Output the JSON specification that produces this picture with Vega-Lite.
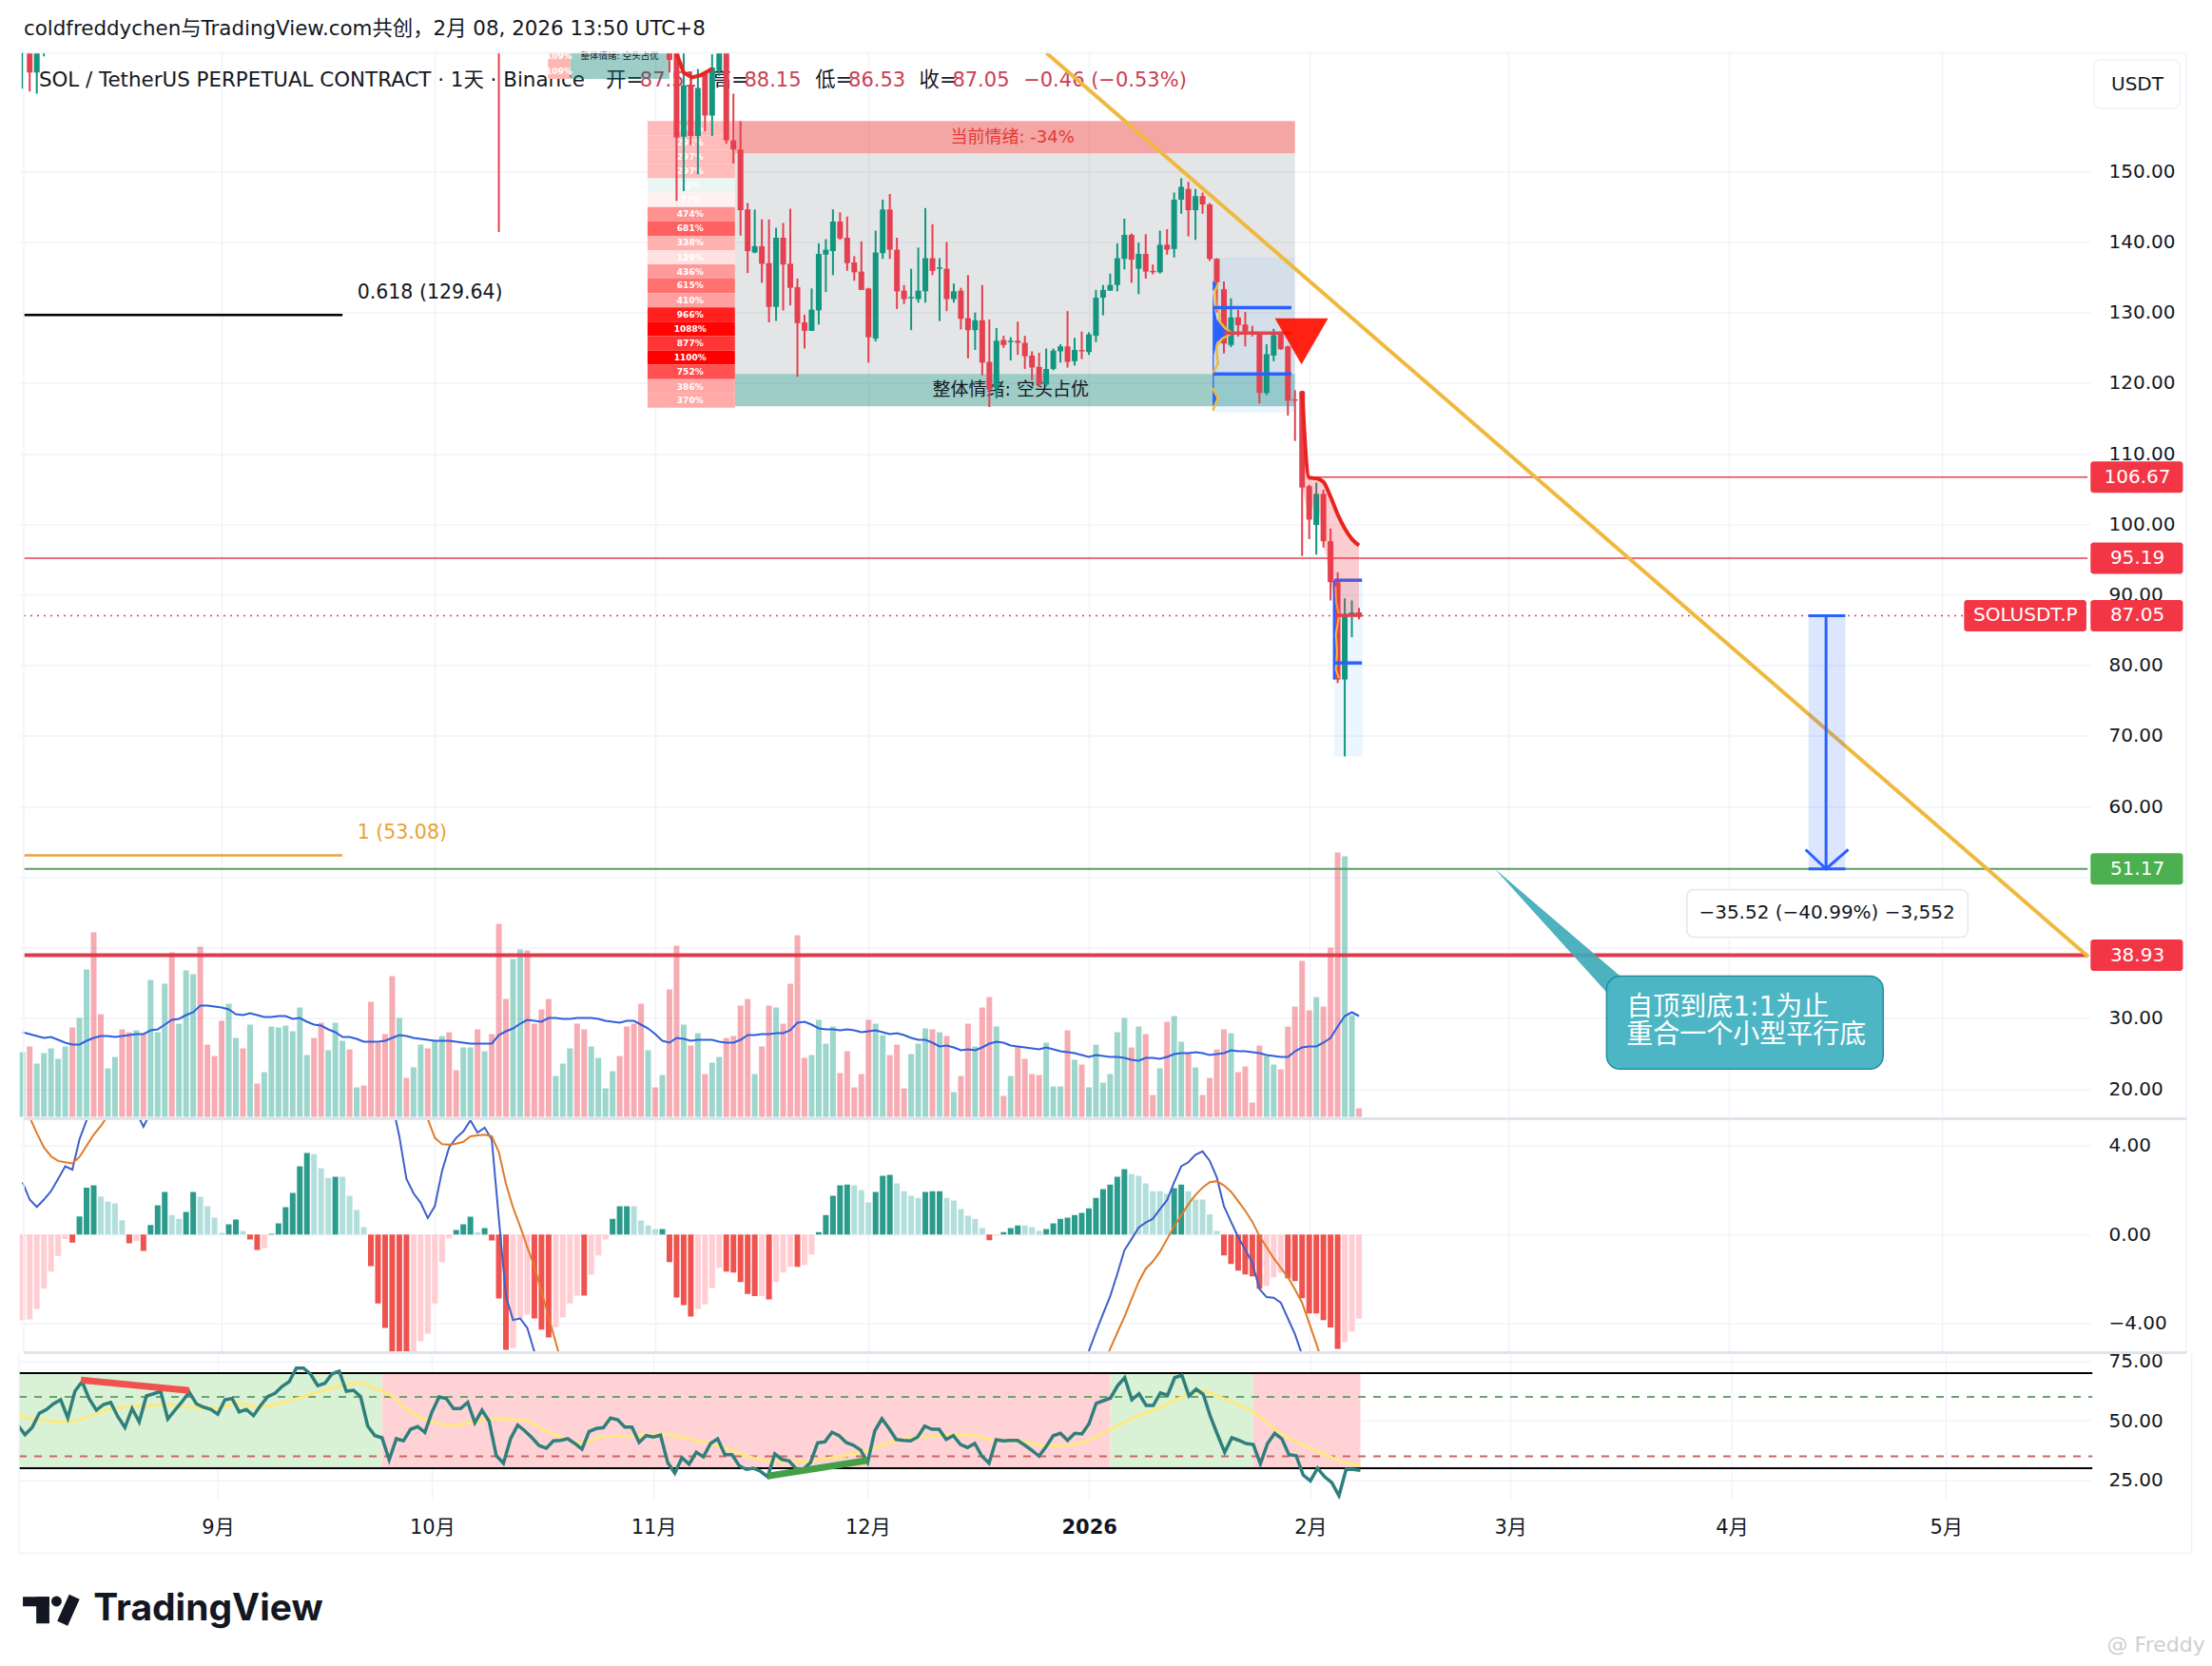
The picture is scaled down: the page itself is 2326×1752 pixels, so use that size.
{"$schema":"https://vega.github.io/schema/vega-lite/v6.json","background":"white","padding":{"left":18,"top":19.5,"right":0,"bottom":0},"spacing":0,"bounds":"flush",
"config":{"font":"DejaVu Sans, Noto Sans CJK SC","view":{"stroke":null},"axis":{"grid":true,"gridColor":"#f0f3fa","gridWidth":1.5,"domain":false,"ticks":false,"labelFontSize":20,"labelColor":"#131722","labelFont":"DejaVu Sans","labelOverlap":false,"labelBound":false,"labelFlush":false,"title":null}},
"datasets":{
"candles":[
{"d":"2025-08-04","o":168,"h":180,"l":161.7,"c":175},{"d":"2025-08-05","o":178,"h":180,"l":161.3,"c":164},{"d":"2025-08-06","o":164,"h":175,"l":161,"c":172},{"d":"2025-08-07","o":172,"h":180,"l":166.3,"c":178},{"d":"2025-10-10","o":220,"h":225,"l":141.4,"c":178},
{"d":"2025-11-03","o":167,"h":170,"l":164,"c":165.8},{"d":"2025-11-04","o":180,"h":182,"l":145.8,"c":154.8},{"d":"2025-11-05","o":154.9,"h":167,"l":147.2,"c":162.2},{"d":"2025-11-06","o":162.2,"h":164,"l":153.7,"c":155},{"d":"2025-11-07","o":155,"h":164.5,"l":149.6,"c":161.8},{"d":"2025-11-08","o":163.8,"h":164.2,"l":155.7,"c":157.9},{"d":"2025-11-09","o":157.9,"h":166.6,"l":155,"c":164.7},{"d":"2025-11-10","o":164.2,"h":172,"l":163.5,"c":168.5},{"d":"2025-11-11","o":170,"h":172,"l":153.9,"c":154.4},{"d":"2025-11-12","o":154.4,"h":161,"l":151.1,"c":153.1},{"d":"2025-11-13","o":153.1,"h":157.1,"l":140.9,"c":144.5},{"d":"2025-11-14","o":144.6,"h":145.5,"l":135.6,"c":138.7},{"d":"2025-11-15","o":138.5,"h":144.6,"l":138.4,"c":139.4},{"d":"2025-11-16","o":139.4,"h":143.2,"l":134.2,"c":136.9},{"d":"2025-11-17","o":137,"h":143.2,"l":128.6,"c":130.8},{"d":"2025-11-18","o":130.8,"h":142,"l":128.8,"c":140.6},{"d":"2025-11-19","o":140.6,"h":142.7,"l":130.3,"c":136.8},{"d":"2025-11-20","o":136.9,"h":144.7,"l":131,"c":133.5},{"d":"2025-11-21","o":133.6,"h":134.8,"l":120.9,"c":128.5},{"d":"2025-11-22","o":128.6,"h":129.7,"l":124.9,"c":127.4},{"d":"2025-11-23","o":127.4,"h":133.4,"l":127.4,"c":130.4},{"d":"2025-11-24","o":130.3,"h":139.8,"l":128.3,"c":138.3},{"d":"2025-11-25","o":138.2,"h":140.4,"l":132.9,"c":138.9},{"d":"2025-11-26","o":138.7,"h":144.6,"l":135.3,"c":142.9},{"d":"2025-11-27","o":142.9,"h":144.2,"l":140.3,"c":140.5},{"d":"2025-11-28","o":140.6,"h":143.6,"l":135.9,"c":137},{"d":"2025-11-29","o":137.1,"h":138,"l":134.5,"c":135.7},{"d":"2025-11-30","o":135.8,"h":140.1,"l":133.2,"c":133.2},
{"d":"2025-12-01","o":133.4,"h":133.5,"l":122.9,"c":126.5},{"d":"2025-12-02","o":126.3,"h":141.6,"l":125.9,"c":138.5},{"d":"2025-12-03","o":138.4,"h":146,"l":137.6,"c":144.6},{"d":"2025-12-04","o":144.6,"h":146.8,"l":137.6,"c":138.9},{"d":"2025-12-05","o":138.9,"h":140.6,"l":130.5,"c":133},{"d":"2025-12-06","o":133.1,"h":133.9,"l":131.2,"c":131.9},{"d":"2025-12-07","o":132,"h":136.2,"l":127.5,"c":132.2},{"d":"2025-12-08","o":131.9,"h":139.2,"l":131.4,"c":133.1},{"d":"2025-12-09","o":133,"h":144.8,"l":131.4,"c":137.7},{"d":"2025-12-10","o":137.7,"h":142.5,"l":135.3,"c":135.9},{"d":"2025-12-11","o":136.2,"h":137.7,"l":128.8,"c":136.4},{"d":"2025-12-12","o":136.2,"h":140,"l":130.2,"c":131.9},{"d":"2025-12-13","o":131.9,"h":134.1,"l":131.4,"c":133},{"d":"2025-12-14","o":133.1,"h":133.5,"l":127.6,"c":129.1},{"d":"2025-12-15","o":129.2,"h":135.3,"l":123.5,"c":127.5},{"d":"2025-12-16","o":127.5,"h":130,"l":124.7,"c":128.9},{"d":"2025-12-17","o":128.9,"h":133.9,"l":121.1,"c":122.9},{"d":"2025-12-18","o":123,"h":129,"l":116.6,"c":119.1},{"d":"2025-12-19","o":119.3,"h":127.8,"l":117.8,"c":126},{"d":"2025-12-20","o":126.1,"h":126.7,"l":125,"c":125.4},{"d":"2025-12-21","o":125.8,"h":126.5,"l":123.2,"c":126},{"d":"2025-12-22","o":126,"h":128.7,"l":124,"c":125.7},{"d":"2025-12-23","o":125.7,"h":126.7,"l":122,"c":123.8},{"d":"2025-12-24","o":123.9,"h":124.5,"l":120.4,"c":122.2},{"d":"2025-12-25","o":122.3,"h":124.3,"l":119.5,"c":119.8},{"d":"2025-12-26","o":119.8,"h":124.9,"l":119.5,"c":122},{"d":"2025-12-27","o":122,"h":124.9,"l":121.8,"c":124.6},{"d":"2025-12-28","o":124.5,"h":125.5,"l":122.9,"c":125.2},{"d":"2025-12-29","o":125.2,"h":130.2,"l":122.2,"c":123},{"d":"2025-12-30","o":123.1,"h":126.4,"l":122.5,"c":124.7},{"d":"2025-12-31","o":124.7,"h":127.3,"l":123.4,"c":124.5},
{"d":"2026-01-01","o":124.4,"h":127.2,"l":124,"c":126.9},{"d":"2026-01-02","o":126.7,"h":133.2,"l":125.8,"c":132.1},{"d":"2026-01-03","o":132.1,"h":133.9,"l":129.6,"c":133.2},{"d":"2026-01-04","o":133.1,"h":135.5,"l":133.1,"c":133.9},{"d":"2026-01-05","o":133.9,"h":139.8,"l":133,"c":137.7},{"d":"2026-01-06","o":137.6,"h":143.3,"l":136.1,"c":141},{"d":"2026-01-07","o":141,"h":141.2,"l":134.2,"c":137.5},{"d":"2026-01-08","o":136.2,"h":139.9,"l":132.6,"c":138.3},{"d":"2026-01-09","o":138.3,"h":141.1,"l":134.8,"c":135.8},{"d":"2026-01-10","o":135.9,"h":136.8,"l":135.4,"c":135.7},{"d":"2026-01-11","o":135.7,"h":141.6,"l":135.5,"c":139.6},{"d":"2026-01-12","o":139.6,"h":141.8,"l":138.2,"c":138.9},{"d":"2026-01-13","o":139,"h":147,"l":137.8,"c":146},{"d":"2026-01-14","o":146,"h":149,"l":144,"c":147.8},{"d":"2026-01-15","o":147.5,"h":148.5,"l":140.8,"c":144.5},{"d":"2026-01-16","o":144.5,"h":147.5,"l":140.3,"c":146.5},{"d":"2026-01-17","o":146.5,"h":147,"l":144,"c":145.3},{"d":"2026-01-18","o":145.3,"h":145.5,"l":137.3,"c":137.6},{"d":"2026-01-19","o":137.6,"h":137.7,"l":130,"c":134.3},{"d":"2026-01-20","o":133.3,"h":134.4,"l":124.2,"c":125.6},{"d":"2026-01-21","o":125.4,"h":132,"l":125.1,"c":129.3},{"d":"2026-01-22","o":129.3,"h":130.4,"l":126.6,"c":128.2},{"d":"2026-01-23","o":128.3,"h":130.1,"l":125.2,"c":127.3},{"d":"2026-01-24","o":127.3,"h":128.1,"l":126.6,"c":127},{"d":"2026-01-25","o":127,"h":127.1,"l":117.1,"c":118.6},{"d":"2026-01-26","o":118.6,"h":125.5,"l":118.3,"c":124.1},{"d":"2026-01-27","o":123.9,"h":127.7,"l":123.1,"c":126.8},{"d":"2026-01-28","o":127.1,"h":127.3,"l":124.7,"c":124.8},{"d":"2026-01-29","o":125.2,"h":125.3,"l":115.4,"c":117.5},{"d":"2026-01-30","o":117.7,"h":119,"l":111.8,"c":117.5},{"d":"2026-01-31","o":118.8,"h":118.9,"l":95.5,"c":105.2},
{"d":"2026-02-01","o":105.4,"h":105.6,"l":97.9,"c":100.65},{"d":"2026-02-02","o":99.9,"h":105.9,"l":95.7,"c":104.3},{"d":"2026-02-03","o":104.3,"h":104.9,"l":96.7,"c":97.6},{"d":"2026-02-04","o":97.6,"h":99.4,"l":89.2,"c":91.8},{"d":"2026-02-05","o":91.8,"h":93.2,"l":77.5,"c":78},{"d":"2026-02-06","o":78,"h":89.5,"l":67.1,"c":87},{"d":"2026-02-07","o":87,"h":89.2,"l":84,"c":87.5},{"d":"2026-02-08","o":87.51,"h":88.15,"l":86.53,"c":87.05}],
"volume":[
{"d":"2025-08-04","v":68,"up":1,"ma":89},{"d":"2025-08-05","v":74,"up":0,"ma":87},{"d":"2025-08-06","v":56,"up":1,"ma":85},{"d":"2025-08-07","v":67,"up":1,"ma":83},{"d":"2025-08-08","v":72,"up":1,"ma":84},{"d":"2025-08-09","v":61,"up":1,"ma":81},{"d":"2025-08-10","v":74,"up":1,"ma":78},{"d":"2025-08-11","v":94,"up":0,"ma":76},{"d":"2025-08-12","v":104,"up":1,"ma":76},{"d":"2025-08-13","v":155,"up":1,"ma":80},{"d":"2025-08-14","v":194,"up":0,"ma":83},{"d":"2025-08-15","v":108,"up":0,"ma":85},{"d":"2025-08-16","v":51,"up":1,"ma":85},{"d":"2025-08-17","v":63,"up":1,"ma":84},{"d":"2025-08-18","v":92,"up":0,"ma":85},{"d":"2025-08-19","v":89,"up":0,"ma":86},{"d":"2025-08-20","v":91,"up":1,"ma":87},{"d":"2025-08-21","v":87,"up":0,"ma":87},{"d":"2025-08-22","v":144,"up":1,"ma":91},{"d":"2025-08-23","v":89,"up":1,"ma":92},{"d":"2025-08-24","v":140,"up":1,"ma":97},{"d":"2025-08-25","v":173,"up":0,"ma":102},{"d":"2025-08-26","v":98,"up":1,"ma":103},{"d":"2025-08-27","v":154,"up":1,"ma":107},{"d":"2025-08-28","v":150,"up":1,"ma":110},{"d":"2025-08-29","v":179,"up":0,"ma":117},{"d":"2025-08-30","v":76,"up":0,"ma":117},{"d":"2025-08-31","v":64,"up":0,"ma":116},
{"d":"2025-09-01","v":101,"up":0,"ma":115},{"d":"2025-09-02","v":119,"up":1,"ma":113},{"d":"2025-09-03","v":83,"up":1,"ma":108},{"d":"2025-09-04","v":72,"up":0,"ma":107},{"d":"2025-09-05","v":97,"up":1,"ma":109},{"d":"2025-09-06","v":35,"up":0,"ma":107},{"d":"2025-09-07","v":47,"up":1,"ma":105},{"d":"2025-09-08","v":95,"up":1,"ma":105},{"d":"2025-09-09","v":94,"up":1,"ma":106},{"d":"2025-09-10","v":96,"up":1,"ma":106},{"d":"2025-09-11","v":90,"up":1,"ma":103},{"d":"2025-09-12","v":115,"up":1,"ma":104},{"d":"2025-09-13","v":65,"up":1,"ma":100},{"d":"2025-09-14","v":83,"up":0,"ma":97},{"d":"2025-09-15","v":99,"up":0,"ma":96},{"d":"2025-09-16","v":70,"up":1,"ma":92},{"d":"2025-09-17","v":99,"up":1,"ma":89},{"d":"2025-09-18","v":80,"up":1,"ma":84},{"d":"2025-09-19","v":71,"up":0,"ma":84},{"d":"2025-09-20","v":31,"up":1,"ma":82},{"d":"2025-09-21","v":33,"up":0,"ma":79},{"d":"2025-09-22","v":121,"up":0,"ma":79},{"d":"2025-09-23","v":78,"up":0,"ma":79},{"d":"2025-09-24","v":87,"up":0,"ma":80},{"d":"2025-09-25","v":148,"up":0,"ma":83},{"d":"2025-09-26","v":104,"up":1,"ma":86},{"d":"2025-09-27","v":41,"up":0,"ma":85},{"d":"2025-09-28","v":52,"up":1,"ma":83},{"d":"2025-09-29","v":76,"up":1,"ma":82},{"d":"2025-09-30","v":72,"up":0,"ma":81},
{"d":"2025-10-01","v":80,"up":1,"ma":80},{"d":"2025-10-02","v":85,"up":1,"ma":80},{"d":"2025-10-03","v":89,"up":0,"ma":80},{"d":"2025-10-04","v":49,"up":0,"ma":79},{"d":"2025-10-05","v":73,"up":1,"ma":78},{"d":"2025-10-06","v":73,"up":1,"ma":77},{"d":"2025-10-07","v":92,"up":0,"ma":77},{"d":"2025-10-08","v":69,"up":1,"ma":77},{"d":"2025-10-09","v":87,"up":0,"ma":77},{"d":"2025-10-10","v":203,"up":0,"ma":86},{"d":"2025-10-11","v":124,"up":0,"ma":90},{"d":"2025-10-12","v":166,"up":1,"ma":93},{"d":"2025-10-13","v":176,"up":1,"ma":98},{"d":"2025-10-14","v":175,"up":0,"ma":102},{"d":"2025-10-15","v":98,"up":0,"ma":101},{"d":"2025-10-16","v":113,"up":0,"ma":100},{"d":"2025-10-17","v":124,"up":0,"ma":104},{"d":"2025-10-18","v":43,"up":1,"ma":104},{"d":"2025-10-19","v":56,"up":1,"ma":103},{"d":"2025-10-20","v":72,"up":1,"ma":103},{"d":"2025-10-21","v":98,"up":0,"ma":104},{"d":"2025-10-22","v":92,"up":0,"ma":104},{"d":"2025-10-23","v":74,"up":1,"ma":104},{"d":"2025-10-24","v":62,"up":1,"ma":103},{"d":"2025-10-25","v":30,"up":1,"ma":101},{"d":"2025-10-26","v":48,"up":1,"ma":100},{"d":"2025-10-27","v":64,"up":0,"ma":99},{"d":"2025-10-28","v":95,"up":0,"ma":101},{"d":"2025-10-29","v":98,"up":0,"ma":101},{"d":"2025-10-30","v":119,"up":0,"ma":97},{"d":"2025-10-31","v":70,"up":1,"ma":93},
{"d":"2025-11-01","v":31,"up":0,"ma":87},{"d":"2025-11-02","v":44,"up":1,"ma":80},{"d":"2025-11-03","v":134,"up":0,"ma":78},{"d":"2025-11-04","v":180,"up":0,"ma":83},{"d":"2025-11-05","v":97,"up":1,"ma":82},{"d":"2025-11-06","v":75,"up":0,"ma":80},{"d":"2025-11-07","v":88,"up":1,"ma":81},{"d":"2025-11-08","v":45,"up":0,"ma":81},{"d":"2025-11-09","v":57,"up":1,"ma":81},{"d":"2025-11-10","v":63,"up":1,"ma":79},{"d":"2025-11-11","v":83,"up":0,"ma":78},{"d":"2025-11-12","v":85,"up":0,"ma":78},{"d":"2025-11-13","v":117,"up":0,"ma":81},{"d":"2025-11-14","v":124,"up":0,"ma":86},{"d":"2025-11-15","v":45,"up":1,"ma":86},{"d":"2025-11-16","v":74,"up":0,"ma":87},{"d":"2025-11-17","v":117,"up":0,"ma":87},{"d":"2025-11-18","v":115,"up":1,"ma":88},{"d":"2025-11-19","v":98,"up":0,"ma":88},{"d":"2025-11-20","v":140,"up":0,"ma":91},{"d":"2025-11-21","v":191,"up":0,"ma":99},{"d":"2025-11-22","v":62,"up":0,"ma":100},{"d":"2025-11-23","v":65,"up":1,"ma":97},{"d":"2025-11-24","v":102,"up":1,"ma":93},{"d":"2025-11-25","v":77,"up":1,"ma":92},{"d":"2025-11-26","v":95,"up":1,"ma":92},{"d":"2025-11-27","v":46,"up":0,"ma":91},{"d":"2025-11-28","v":69,"up":0,"ma":92},{"d":"2025-11-29","v":31,"up":0,"ma":91},{"d":"2025-11-30","v":45,"up":0,"ma":89},
{"d":"2025-12-01","v":102,"up":0,"ma":90},{"d":"2025-12-02","v":98,"up":1,"ma":91},{"d":"2025-12-03","v":86,"up":1,"ma":89},{"d":"2025-12-04","v":65,"up":0,"ma":87},{"d":"2025-12-05","v":76,"up":0,"ma":88},{"d":"2025-12-06","v":30,"up":0,"ma":86},{"d":"2025-12-07","v":66,"up":1,"ma":83},{"d":"2025-12-08","v":77,"up":1,"ma":81},{"d":"2025-12-09","v":93,"up":1,"ma":81},{"d":"2025-12-10","v":92,"up":0,"ma":78},{"d":"2025-12-11","v":89,"up":1,"ma":74},{"d":"2025-12-12","v":85,"up":0,"ma":75},{"d":"2025-12-13","v":26,"up":1,"ma":73},{"d":"2025-12-14","v":43,"up":0,"ma":70},{"d":"2025-12-15","v":98,"up":0,"ma":71},{"d":"2025-12-16","v":74,"up":1,"ma":70},{"d":"2025-12-17","v":115,"up":0,"ma":73},{"d":"2025-12-18","v":126,"up":0,"ma":77},{"d":"2025-12-19","v":95,"up":1,"ma":79},{"d":"2025-12-20","v":22,"up":0,"ma":78},{"d":"2025-12-21","v":43,"up":1,"ma":75},{"d":"2025-12-22","v":74,"up":0,"ma":74},{"d":"2025-12-23","v":61,"up":0,"ma":73},{"d":"2025-12-24","v":45,"up":0,"ma":72},{"d":"2025-12-25","v":44,"up":0,"ma":71},{"d":"2025-12-26","v":78,"up":1,"ma":73},{"d":"2025-12-27","v":32,"up":1,"ma":71},{"d":"2025-12-28","v":32,"up":1,"ma":69},{"d":"2025-12-29","v":91,"up":0,"ma":68},{"d":"2025-12-30","v":60,"up":1,"ma":67},{"d":"2025-12-31","v":55,"up":0,"ma":65},
{"d":"2026-01-01","v":31,"up":1,"ma":63},{"d":"2026-01-02","v":76,"up":1,"ma":65},{"d":"2026-01-03","v":36,"up":1,"ma":64},{"d":"2026-01-04","v":45,"up":1,"ma":63},{"d":"2026-01-05","v":89,"up":1,"ma":63},{"d":"2026-01-06","v":104,"up":1,"ma":62},{"d":"2026-01-07","v":73,"up":0,"ma":60},{"d":"2026-01-08","v":95,"up":1,"ma":59},{"d":"2026-01-09","v":87,"up":0,"ma":62},{"d":"2026-01-10","v":23,"up":0,"ma":62},{"d":"2026-01-11","v":51,"up":1,"ma":61},{"d":"2026-01-12","v":100,"up":0,"ma":63},{"d":"2026-01-13","v":106,"up":1,"ma":66},{"d":"2026-01-14","v":79,"up":1,"ma":67},{"d":"2026-01-15","v":67,"up":0,"ma":67},{"d":"2026-01-16","v":52,"up":1,"ma":68},{"d":"2026-01-17","v":23,"up":0,"ma":67},{"d":"2026-01-18","v":41,"up":0,"ma":65},{"d":"2026-01-19","v":71,"up":0,"ma":66},{"d":"2026-01-20","v":92,"up":0,"ma":67},{"d":"2026-01-21","v":88,"up":1,"ma":70},{"d":"2026-01-22","v":47,"up":0,"ma":69},{"d":"2026-01-23","v":53,"up":0,"ma":69},{"d":"2026-01-24","v":15,"up":0,"ma":68},{"d":"2026-01-25","v":75,"up":0,"ma":67},{"d":"2026-01-26","v":64,"up":1,"ma":65},{"d":"2026-01-27","v":55,"up":1,"ma":64},{"d":"2026-01-28","v":50,"up":0,"ma":63},{"d":"2026-01-29","v":95,"up":0,"ma":63},{"d":"2026-01-30","v":116,"up":0,"ma":69},{"d":"2026-01-31","v":164,"up":0,"ma":73},
{"d":"2026-02-01","v":112,"up":0,"ma":74},{"d":"2026-02-02","v":126,"up":1,"ma":74},{"d":"2026-02-03","v":116,"up":0,"ma":78},{"d":"2026-02-04","v":178,"up":0,"ma":83},{"d":"2026-02-05","v":278,"up":0,"ma":95},{"d":"2026-02-06","v":274,"up":1,"ma":106},{"d":"2026-02-07","v":107,"up":1,"ma":110},{"d":"2026-02-08","v":9,"up":0,"ma":106}],
"hist":[
{"d":"2025-08-04","h":-3.85,"s":"lr"},{"d":"2025-08-05","h":-3.82,"s":"lr"},{"d":"2025-08-06","h":-3.35,"s":"lr"},{"d":"2025-08-07","h":-2.43,"s":"lr"},{"d":"2025-08-08","h":-1.67,"s":"lr"},{"d":"2025-08-09","h":-0.96,"s":"lr"},{"d":"2025-08-10","h":-0.21,"s":"lr"},{"d":"2025-08-11","h":-0.36,"s":"dr"},{"d":"2025-08-12","h":0.81,"s":"dg"},{"d":"2025-08-13","h":2.11,"s":"dg"},{"d":"2025-08-14","h":2.21,"s":"dg"},{"d":"2025-08-15","h":1.71,"s":"lg"},{"d":"2025-08-16","h":1.48,"s":"lg"},{"d":"2025-08-17","h":1.4,"s":"lg"},{"d":"2025-08-18","h":0.64,"s":"lg"},{"d":"2025-08-19","h":-0.4,"s":"dr"},{"d":"2025-08-20","h":-0.29,"s":"lr"},{"d":"2025-08-21","h":-0.74,"s":"dr"},{"d":"2025-08-22","h":0.43,"s":"dg"},{"d":"2025-08-23","h":1.31,"s":"dg"},{"d":"2025-08-24","h":1.91,"s":"dg"},{"d":"2025-08-25","h":0.88,"s":"lg"},{"d":"2025-08-26","h":0.71,"s":"lg"},{"d":"2025-08-27","h":1.01,"s":"dg"},{"d":"2025-08-28","h":1.91,"s":"dg"},{"d":"2025-08-29","h":1.7,"s":"lg"},{"d":"2025-08-30","h":1.27,"s":"lg"},{"d":"2025-08-31","h":0.76,"s":"lg"},
{"d":"2025-09-01","h":0.07,"s":"lg"},{"d":"2025-09-02","h":0.46,"s":"dg"},{"d":"2025-09-03","h":0.67,"s":"dg"},{"d":"2025-09-04","h":0.16,"s":"lg"},{"d":"2025-09-05","h":-0.23,"s":"dr"},{"d":"2025-09-06","h":-0.7,"s":"dr"},{"d":"2025-09-07","h":-0.61,"s":"lr"},{"d":"2025-09-08","h":0.03,"s":"dg"},{"d":"2025-09-09","h":0.5,"s":"dg"},{"d":"2025-09-10","h":1.23,"s":"dg"},{"d":"2025-09-11","h":1.87,"s":"dg"},{"d":"2025-09-12","h":3.07,"s":"dg"},{"d":"2025-09-13","h":3.67,"s":"dg"},{"d":"2025-09-14","h":3.62,"s":"lg"},{"d":"2025-09-15","h":2.98,"s":"lg"},{"d":"2025-09-16","h":2.55,"s":"lg"},{"d":"2025-09-17","h":2.6,"s":"dg"},{"d":"2025-09-18","h":2.6,"s":"lg"},{"d":"2025-09-19","h":1.74,"s":"lg"},{"d":"2025-09-20","h":1.1,"s":"lg"},{"d":"2025-09-21","h":0.33,"s":"lg"},{"d":"2025-09-22","h":-1.43,"s":"dr"},{"d":"2025-09-23","h":-3.1,"s":"dr"},{"d":"2025-09-24","h":-4.21,"s":"dr"},{"d":"2025-09-25","h":-6,"s":"dr"},{"d":"2025-09-26","h":-6,"s":"dr"},{"d":"2025-09-27","h":-5.6,"s":"dr"},{"d":"2025-09-28","h":-5.4,"s":"lr"},{"d":"2025-09-29","h":-4.81,"s":"lr"},{"d":"2025-09-30","h":-4.46,"s":"lr"},
{"d":"2025-10-01","h":-3.1,"s":"lr"},{"d":"2025-10-02","h":-1.24,"s":"lr"},{"d":"2025-10-03","h":-0.17,"s":"lr"},{"d":"2025-10-04","h":0.2,"s":"dg"},{"d":"2025-10-05","h":0.46,"s":"dg"},{"d":"2025-10-06","h":0.8,"s":"dg"},{"d":"2025-10-07","h":0.11,"s":"lg"},{"d":"2025-10-08","h":0.29,"s":"dg"},{"d":"2025-10-09","h":-0.27,"s":"dr"},{"d":"2025-10-10","h":-2.88,"s":"dr"},{"d":"2025-10-11","h":-5.19,"s":"dr"},{"d":"2025-10-12","h":-5.11,"s":"lr"},{"d":"2025-10-13","h":-3.78,"s":"lr"},{"d":"2025-10-14","h":-3.61,"s":"lr"},{"d":"2025-10-15","h":-3.78,"s":"dr"},{"d":"2025-10-16","h":-4.28,"s":"dr"},{"d":"2025-10-17","h":-4.64,"s":"dr"},{"d":"2025-10-18","h":-4.17,"s":"lr"},{"d":"2025-10-19","h":-3.74,"s":"lr"},{"d":"2025-10-20","h":-3.1,"s":"lr"},{"d":"2025-10-21","h":-2.75,"s":"lr"},{"d":"2025-10-22","h":-2.75,"s":"dr"},{"d":"2025-10-23","h":-1.81,"s":"lr"},{"d":"2025-10-24","h":-0.94,"s":"lr"},{"d":"2025-10-25","h":-0.23,"s":"lr"},{"d":"2025-10-26","h":0.71,"s":"dg"},{"d":"2025-10-27","h":1.27,"s":"dg"},{"d":"2025-10-28","h":1.27,"s":"dg"},{"d":"2025-10-29","h":1.27,"s":"lg"},{"d":"2025-10-30","h":0.63,"s":"lg"},{"d":"2025-10-31","h":0.41,"s":"lg"},
{"d":"2025-11-01","h":0.24,"s":"lg"},{"d":"2025-11-02","h":0.24,"s":"dg"},{"d":"2025-11-03","h":-1.24,"s":"dr"},{"d":"2025-11-04","h":-2.84,"s":"dr"},{"d":"2025-11-05","h":-3.18,"s":"dr"},{"d":"2025-11-06","h":-3.69,"s":"dr"},{"d":"2025-11-07","h":-3.35,"s":"lr"},{"d":"2025-11-08","h":-3.14,"s":"lr"},{"d":"2025-11-09","h":-2.41,"s":"lr"},{"d":"2025-11-10","h":-1.5,"s":"lr"},{"d":"2025-11-11","h":-1.67,"s":"dr"},{"d":"2025-11-12","h":-1.71,"s":"dr"},{"d":"2025-11-13","h":-2.14,"s":"dr"},{"d":"2025-11-14","h":-2.68,"s":"dr"},{"d":"2025-11-15","h":-2.77,"s":"dr"},{"d":"2025-11-16","h":-2.77,"s":"lr"},{"d":"2025-11-17","h":-2.92,"s":"dr"},{"d":"2025-11-18","h":-2.14,"s":"lr"},{"d":"2025-11-19","h":-1.71,"s":"lr"},{"d":"2025-11-20","h":-1.46,"s":"lr"},{"d":"2025-11-21","h":-1.46,"s":"dr"},{"d":"2025-11-22","h":-1.37,"s":"lr"},{"d":"2025-11-23","h":-0.9,"s":"lr"},{"d":"2025-11-24","h":0.11,"s":"dg"},{"d":"2025-11-25","h":0.88,"s":"dg"},{"d":"2025-11-26","h":1.74,"s":"dg"},{"d":"2025-11-27","h":2.21,"s":"dg"},{"d":"2025-11-28","h":2.25,"s":"dg"},{"d":"2025-11-29","h":2.21,"s":"lg"},{"d":"2025-11-30","h":2,"s":"lg"},
{"d":"2025-12-01","h":1.44,"s":"lg"},{"d":"2025-12-02","h":1.91,"s":"dg"},{"d":"2025-12-03","h":2.64,"s":"dg"},{"d":"2025-12-04","h":2.68,"s":"dg"},{"d":"2025-12-05","h":2.3,"s":"lg"},{"d":"2025-12-06","h":1.95,"s":"lg"},{"d":"2025-12-07","h":1.74,"s":"lg"},{"d":"2025-12-08","h":1.65,"s":"lg"},{"d":"2025-12-09","h":1.91,"s":"dg"},{"d":"2025-12-10","h":1.95,"s":"dg"},{"d":"2025-12-11","h":1.95,"s":"dg"},{"d":"2025-12-12","h":1.65,"s":"lg"},{"d":"2025-12-13","h":1.53,"s":"lg"},{"d":"2025-12-14","h":1.14,"s":"lg"},{"d":"2025-12-15","h":0.84,"s":"lg"},{"d":"2025-12-16","h":0.71,"s":"lg"},{"d":"2025-12-17","h":0.29,"s":"lg"},{"d":"2025-12-18","h":-0.26,"s":"dr"},{"d":"2025-12-19","h":-0.03,"s":"lr"},{"d":"2025-12-20","h":0.11,"s":"dg"},{"d":"2025-12-21","h":0.29,"s":"dg"},{"d":"2025-12-22","h":0.41,"s":"dg"},{"d":"2025-12-23","h":0.41,"s":"lg"},{"d":"2025-12-24","h":0.33,"s":"lg"},{"d":"2025-12-25","h":0.16,"s":"lg"},{"d":"2025-12-26","h":0.24,"s":"dg"},{"d":"2025-12-27","h":0.5,"s":"dg"},{"d":"2025-12-28","h":0.71,"s":"dg"},{"d":"2025-12-29","h":0.76,"s":"dg"},{"d":"2025-12-30","h":0.88,"s":"dg"},{"d":"2025-12-31","h":0.97,"s":"dg"},
{"d":"2026-01-01","h":1.18,"s":"dg"},{"d":"2026-01-02","h":1.65,"s":"dg"},{"d":"2026-01-03","h":2.04,"s":"dg"},{"d":"2026-01-04","h":2.25,"s":"dg"},{"d":"2026-01-05","h":2.6,"s":"dg"},{"d":"2026-01-06","h":2.94,"s":"dg"},{"d":"2026-01-07","h":2.72,"s":"lg"},{"d":"2026-01-08","h":2.64,"s":"lg"},{"d":"2026-01-09","h":2.3,"s":"lg"},{"d":"2026-01-10","h":1.95,"s":"lg"},{"d":"2026-01-11","h":1.95,"s":"lg"},{"d":"2026-01-12","h":1.83,"s":"lg"},{"d":"2026-01-13","h":2.08,"s":"dg"},{"d":"2026-01-14","h":2.25,"s":"dg"},{"d":"2026-01-15","h":1.95,"s":"lg"},{"d":"2026-01-16","h":1.57,"s":"lg"},{"d":"2026-01-17","h":1.57,"s":"lg"},{"d":"2026-01-18","h":0.91,"s":"lg"},{"d":"2026-01-19","h":0.16,"s":"lg"},{"d":"2026-01-20","h":-0.94,"s":"dr"},{"d":"2026-01-21","h":-1.33,"s":"dr"},{"d":"2026-01-22","h":-1.63,"s":"dr"},{"d":"2026-01-23","h":-1.8,"s":"dr"},{"d":"2026-01-24","h":-1.88,"s":"dr"},{"d":"2026-01-25","h":-2.44,"s":"dr"},{"d":"2026-01-26","h":-2.31,"s":"lr"},{"d":"2026-01-27","h":-1.93,"s":"lr"},{"d":"2026-01-28","h":-1.71,"s":"lr"},{"d":"2026-01-29","h":-1.97,"s":"dr"},{"d":"2026-01-30","h":-2.1,"s":"dr"},{"d":"2026-01-31","h":-2.87,"s":"dr"},
{"d":"2026-02-01","h":-3.55,"s":"dr"},{"d":"2026-02-02","h":-3.55,"s":"dr"},{"d":"2026-02-03","h":-3.85,"s":"dr"},{"d":"2026-02-04","h":-4.19,"s":"dr"},{"d":"2026-02-05","h":-5.15,"s":"dr"},{"d":"2026-02-06","h":-4.84,"s":"lr"},{"d":"2026-02-07","h":-4.37,"s":"lr"},{"d":"2026-02-08","h":-3.79,"s":"lr"}],
"macd":[
{"d":"2025-08-04","m":2.35,"k":"m","seg":1},{"d":"2025-08-05","m":1.57,"k":"m","seg":1},{"d":"2025-08-06","m":1.24,"k":"m","seg":1},{"d":"2025-08-07","m":1.57,"k":"m","seg":1},{"d":"2025-08-08","m":1.95,"k":"m","seg":1},{"d":"2025-08-09","m":2.5,"k":"m","seg":1},{"d":"2025-08-10","m":3.07,"k":"m","seg":1},{"d":"2025-08-11","m":2.92,"k":"m","seg":1},{"d":"2025-08-12","m":4.28,"k":"m","seg":1},{"d":"2025-08-13","m":5.14,"k":"m","seg":1},{"d":"2025-08-14","m":6,"k":"m","seg":1},
{"d":"2025-08-20","m":5.5,"k":"m","seg":2},{"d":"2025-08-21","m":4.85,"k":"m","seg":2},{"d":"2025-08-22","m":5.5,"k":"m","seg":2},
{"d":"2025-09-25","m":5.9,"k":"m","seg":3},{"d":"2025-09-26","m":4.42,"k":"m","seg":3},{"d":"2025-09-27","m":2.5,"k":"m","seg":3},{"d":"2025-09-28","m":1.85,"k":"m","seg":3},{"d":"2025-09-29","m":1.43,"k":"m","seg":3},{"d":"2025-09-30","m":0.74,"k":"m","seg":3},{"d":"2025-10-01","m":1.28,"k":"m","seg":3},{"d":"2025-10-02","m":2.85,"k":"m","seg":3},{"d":"2025-10-03","m":3.92,"k":"m","seg":3},{"d":"2025-10-04","m":4.35,"k":"m","seg":3},{"d":"2025-10-05","m":4.64,"k":"m","seg":3},{"d":"2025-10-06","m":5.14,"k":"m","seg":3},{"d":"2025-10-07","m":4.59,"k":"m","seg":3},{"d":"2025-10-08","m":4.81,"k":"m","seg":3},{"d":"2025-10-09","m":4.28,"k":"m","seg":3},{"d":"2025-10-10","m":0.71,"k":"m","seg":3},{"d":"2025-10-11","m":-2.78,"k":"m","seg":3},{"d":"2025-10-12","m":-3.85,"k":"m","seg":3},{"d":"2025-10-13","m":-3.78,"k":"m","seg":3},{"d":"2025-10-14","m":-4.21,"k":"m","seg":3},{"d":"2025-10-15","m":-5.28,"k":"m","seg":3},{"d":"2025-10-16","m":-6.5,"k":"m","seg":3},
{"d":"2025-12-31","m":-6.3,"k":"m","seg":4},{"d":"2026-01-01","m":-5.25,"k":"m","seg":4},{"d":"2026-01-02","m":-4.39,"k":"m","seg":4},{"d":"2026-01-03","m":-3.57,"k":"m","seg":4},{"d":"2026-01-04","m":-2.78,"k":"m","seg":4},{"d":"2026-01-05","m":-1.78,"k":"m","seg":4},{"d":"2026-01-06","m":-0.71,"k":"m","seg":4},{"d":"2026-01-07","m":-0.21,"k":"m","seg":4},{"d":"2026-01-08","m":0.31,"k":"m","seg":4},{"d":"2026-01-09","m":0.54,"k":"m","seg":4},{"d":"2026-01-10","m":0.71,"k":"m","seg":4},{"d":"2026-01-11","m":1.14,"k":"m","seg":4},{"d":"2026-01-12","m":1.54,"k":"m","seg":4},{"d":"2026-01-13","m":2.35,"k":"m","seg":4},{"d":"2026-01-14","m":3.07,"k":"m","seg":4},{"d":"2026-01-15","m":3.25,"k":"m","seg":4},{"d":"2026-01-16","m":3.59,"k":"m","seg":4},{"d":"2026-01-17","m":3.74,"k":"m","seg":4},{"d":"2026-01-18","m":3.32,"k":"m","seg":4},{"d":"2026-01-19","m":2.57,"k":"m","seg":4},{"d":"2026-01-20","m":1.28,"k":"m","seg":4},{"d":"2026-01-21","m":0.57,"k":"m","seg":4},{"d":"2026-01-22","m":-0.11,"k":"m","seg":4},{"d":"2026-01-23","m":-0.68,"k":"m","seg":4},{"d":"2026-01-24","m":-1.28,"k":"m","seg":4},{"d":"2026-01-25","m":-2.45,"k":"m","seg":4},{"d":"2026-01-26","m":-2.82,"k":"m","seg":4},{"d":"2026-01-27","m":-2.85,"k":"m","seg":4},{"d":"2026-01-28","m":-3.07,"k":"m","seg":4},{"d":"2026-01-29","m":-3.78,"k":"m","seg":4},{"d":"2026-01-30","m":-4.49,"k":"m","seg":4},{"d":"2026-01-31","m":-5.42,"k":"m","seg":4},{"d":"2026-02-01","m":-7,"k":"m","seg":4},
{"d":"2025-08-05","m":5.28,"k":"s","seg":5},{"d":"2025-08-06","m":4.56,"k":"s","seg":5},{"d":"2025-08-07","m":3.92,"k":"s","seg":5},{"d":"2025-08-08","m":3.52,"k":"s","seg":5},{"d":"2025-08-09","m":3.31,"k":"s","seg":5},{"d":"2025-08-10","m":3.25,"k":"s","seg":5},{"d":"2025-08-11","m":3.2,"k":"s","seg":5},{"d":"2025-08-12","m":3.49,"k":"s","seg":5},{"d":"2025-08-13","m":3.99,"k":"s","seg":5},{"d":"2025-08-14","m":4.49,"k":"s","seg":5},{"d":"2025-08-15","m":4.88,"k":"s","seg":5},{"d":"2025-08-16","m":5.35,"k":"s","seg":5},
{"d":"2025-09-30","m":5.2,"k":"s","seg":6},{"d":"2025-10-01","m":4.35,"k":"s","seg":6},{"d":"2025-10-02","m":4.07,"k":"s","seg":6},{"d":"2025-10-03","m":4.04,"k":"s","seg":6},{"d":"2025-10-04","m":4.09,"k":"s","seg":6},{"d":"2025-10-05","m":4.17,"k":"s","seg":6},{"d":"2025-10-06","m":4.42,"k":"s","seg":6},{"d":"2025-10-07","m":4.46,"k":"s","seg":6},{"d":"2025-10-08","m":4.49,"k":"s","seg":6},{"d":"2025-10-09","m":4.42,"k":"s","seg":6},{"d":"2025-10-10","m":3.71,"k":"s","seg":6},{"d":"2025-10-11","m":2.28,"k":"s","seg":6},{"d":"2025-10-12","m":1.21,"k":"s","seg":6},{"d":"2025-10-13","m":0.36,"k":"s","seg":6},{"d":"2025-10-14","m":-0.57,"k":"s","seg":6},{"d":"2025-10-15","m":-1.43,"k":"s","seg":6},{"d":"2025-10-16","m":-2.57,"k":"s","seg":6},{"d":"2025-10-17","m":-3.71,"k":"s","seg":6},{"d":"2025-10-18","m":-4.85,"k":"s","seg":6},{"d":"2025-10-19","m":-6,"k":"s","seg":6},
{"d":"2026-01-03","m":-5.9,"k":"s","seg":7},{"d":"2026-01-04","m":-5.14,"k":"s","seg":7},{"d":"2026-01-05","m":-4.42,"k":"s","seg":7},{"d":"2026-01-06","m":-3.71,"k":"s","seg":7},{"d":"2026-01-07","m":-2.92,"k":"s","seg":7},{"d":"2026-01-08","m":-2.14,"k":"s","seg":7},{"d":"2026-01-09","m":-1.54,"k":"s","seg":7},{"d":"2026-01-10","m":-1.21,"k":"s","seg":7},{"d":"2026-01-11","m":-0.78,"k":"s","seg":7},{"d":"2026-01-12","m":-0.21,"k":"s","seg":7},{"d":"2026-01-13","m":0.36,"k":"s","seg":7},{"d":"2026-01-14","m":0.86,"k":"s","seg":7},{"d":"2026-01-15","m":1.36,"k":"s","seg":7},{"d":"2026-01-16","m":1.78,"k":"s","seg":7},{"d":"2026-01-17","m":2.11,"k":"s","seg":7},{"d":"2026-01-18","m":2.35,"k":"s","seg":7},{"d":"2026-01-19","m":2.4,"k":"s","seg":7},{"d":"2026-01-20","m":2.21,"k":"s","seg":7},{"d":"2026-01-21","m":1.93,"k":"s","seg":7},{"d":"2026-01-22","m":1.5,"k":"s","seg":7},{"d":"2026-01-23","m":1.07,"k":"s","seg":7},{"d":"2026-01-24","m":0.57,"k":"s","seg":7},{"d":"2026-01-25","m":-0.07,"k":"s","seg":7},{"d":"2026-01-26","m":-0.57,"k":"s","seg":7},{"d":"2026-01-27","m":-1.07,"k":"s","seg":7},{"d":"2026-01-28","m":-1.5,"k":"s","seg":7},{"d":"2026-01-29","m":-1.93,"k":"s","seg":7},{"d":"2026-01-30","m":-2.47,"k":"s","seg":7},{"d":"2026-01-31","m":-3.07,"k":"s","seg":7},{"d":"2026-02-01","m":-3.99,"k":"s","seg":7},{"d":"2026-02-02","m":-4.92,"k":"s","seg":7},{"d":"2026-02-03","m":-5.9,"k":"s","seg":7}],
"rsi":[
{"d":"2025-08-04","r":48.1},{"d":"2025-08-05","r":44.1},{"d":"2025-08-06","r":47.1},{"d":"2025-08-07","r":53.1},{"d":"2025-08-08","r":54.7},{"d":"2025-08-09","r":57.1},{"d":"2025-08-10","r":58.8},{"d":"2025-08-11","r":51.1},{"d":"2025-08-12","r":62.4},{"d":"2025-08-13","r":66.4},{"d":"2025-08-14","r":59.1},{"d":"2025-08-15","r":54.4},{"d":"2025-08-16","r":56.8},{"d":"2025-08-17","r":57.7},{"d":"2025-08-18","r":51.7},{"d":"2025-08-19","r":47.1},{"d":"2025-08-20","r":55.1},{"d":"2025-08-21","r":49.5},{"d":"2025-08-22","r":60.4},{"d":"2025-08-23","r":61.3},{"d":"2025-08-24","r":62.4},{"d":"2025-08-25","r":50.7},{"d":"2025-08-26","r":54.4},{"d":"2025-08-27","r":58},{"d":"2025-08-28","r":62},{"d":"2025-08-29","r":57.1},{"d":"2025-08-30","r":55.7},{"d":"2025-08-31","r":54.8},
{"d":"2025-09-01","r":52.7},{"d":"2025-09-02","r":58.8},{"d":"2025-09-03","r":59.3},{"d":"2025-09-04","r":53.7},{"d":"2025-09-05","r":54.7},{"d":"2025-09-06","r":52.1},{"d":"2025-09-07","r":56.4},{"d":"2025-09-08","r":60.1},{"d":"2025-09-09","r":61.5},{"d":"2025-09-10","r":64.4},{"d":"2025-09-11","r":66.4},{"d":"2025-09-12","r":72.1},{"d":"2025-09-13","r":72.1},{"d":"2025-09-14","r":69.5},{"d":"2025-09-15","r":64.7},{"d":"2025-09-16","r":65.7},{"d":"2025-09-17","r":69.7},{"d":"2025-09-18","r":70.8},{"d":"2025-09-19","r":62.4},{"d":"2025-09-20","r":62.8},{"d":"2025-09-21","r":60.1},{"d":"2025-09-22","r":47.7},{"d":"2025-09-23","r":43.7},{"d":"2025-09-24","r":42.8},{"d":"2025-09-25","r":33.5},{"d":"2025-09-26","r":42.4},{"d":"2025-09-27","r":41.5},{"d":"2025-09-28","r":46.4},{"d":"2025-09-29","r":47.5},{"d":"2025-09-30","r":45.1},
{"d":"2025-10-01","r":53.7},{"d":"2025-10-02","r":60},{"d":"2025-10-03","r":59.3},{"d":"2025-10-04","r":55.1},{"d":"2025-10-05","r":55.1},{"d":"2025-10-06","r":57.7},{"d":"2025-10-07","r":49.1},{"d":"2025-10-08","r":54.4},{"d":"2025-10-09","r":49.7},{"d":"2025-10-10","r":35.3},{"d":"2025-10-11","r":32.1},{"d":"2025-10-12","r":42.4},{"d":"2025-10-13","r":48.1},{"d":"2025-10-14","r":45.7},{"d":"2025-10-15","r":42.8},{"d":"2025-10-16","r":39.5},{"d":"2025-10-17","r":38.4},{"d":"2025-10-18","r":41.5},{"d":"2025-10-19","r":41.7},{"d":"2025-10-20","r":42.4},{"d":"2025-10-21","r":40.4},{"d":"2025-10-22","r":38},{"d":"2025-10-23","r":45.5},{"d":"2025-10-24","r":46.7},{"d":"2025-10-25","r":47.1},{"d":"2025-10-26","r":51.1},{"d":"2025-10-27","r":50.4},{"d":"2025-10-28","r":47.3},{"d":"2025-10-29","r":47.3},{"d":"2025-10-30","r":40.9},{"d":"2025-10-31","r":43.7},
{"d":"2025-11-01","r":43.1},{"d":"2025-11-02","r":43.9},{"d":"2025-11-03","r":32.4},{"d":"2025-11-04","r":27.9},{"d":"2025-11-05","r":34.4},{"d":"2025-11-06","r":31.7},{"d":"2025-11-07","r":36.7},{"d":"2025-11-08","r":34.8},{"d":"2025-11-09","r":40.4},{"d":"2025-11-10","r":42.4},{"d":"2025-11-11","r":35.7},{"d":"2025-11-12","r":35.7},{"d":"2025-11-13","r":31.1},{"d":"2025-11-14","r":29.5},{"d":"2025-11-15","r":30},{"d":"2025-11-16","r":28.7},{"d":"2025-11-17","r":26.4},{"d":"2025-11-18","r":36},{"d":"2025-11-19","r":33.7},{"d":"2025-11-20","r":33.1},{"d":"2025-11-21","r":29.7},{"d":"2025-11-22","r":29.5},{"d":"2025-11-23","r":32.4},{"d":"2025-11-24","r":40.7},{"d":"2025-11-25","r":41.1},{"d":"2025-11-26","r":45.1},{"d":"2025-11-27","r":43.7},{"d":"2025-11-28","r":40.8},{"d":"2025-11-29","r":39.7},{"d":"2025-11-30","r":37.7},
{"d":"2025-12-01","r":32.4},{"d":"2025-12-02","r":45.7},{"d":"2025-12-03","r":50.8},{"d":"2025-12-04","r":46.7},{"d":"2025-12-05","r":42.1},{"d":"2025-12-06","r":41.7},{"d":"2025-12-07","r":41.5},{"d":"2025-12-08","r":43.1},{"d":"2025-12-09","r":47.7},{"d":"2025-12-10","r":46.4},{"d":"2025-12-11","r":46.4},{"d":"2025-12-12","r":42.1},{"d":"2025-12-13","r":43.7},{"d":"2025-12-14","r":40},{"d":"2025-12-15","r":38.7},{"d":"2025-12-16","r":40.4},{"d":"2025-12-17","r":35.1},{"d":"2025-12-18","r":32.1},{"d":"2025-12-19","r":42},{"d":"2025-12-20","r":41.5},{"d":"2025-12-21","r":41.7},{"d":"2025-12-22","r":41.7},{"d":"2025-12-23","r":39.7},{"d":"2025-12-24","r":37.5},{"d":"2025-12-25","r":35.1},{"d":"2025-12-26","r":39.1},{"d":"2025-12-27","r":43.7},{"d":"2025-12-28","r":44.7},{"d":"2025-12-29","r":41.7},{"d":"2025-12-30","r":44.7},{"d":"2025-12-31","r":44.4},
{"d":"2026-01-01","r":48.7},{"d":"2026-01-02","r":57.3},{"d":"2026-01-03","r":58.4},{"d":"2026-01-04","r":59.5},{"d":"2026-01-05","r":64.7},{"d":"2026-01-06","r":68.1},{"d":"2026-01-07","r":58.8},{"d":"2026-01-08","r":61.3},{"d":"2026-01-09","r":56.4},{"d":"2026-01-10","r":56.4},{"d":"2026-01-11","r":61.7},{"d":"2026-01-12","r":60.7},{"d":"2026-01-13","r":68.1},{"d":"2026-01-14","r":69.1},{"d":"2026-01-15","r":60.4},{"d":"2026-01-16","r":63.3},{"d":"2026-01-17","r":61.1},{"d":"2026-01-18","r":51.7},{"d":"2026-01-19","r":44.1},{"d":"2026-01-20","r":36.7},{"d":"2026-01-21","r":42.8},{"d":"2026-01-22","r":41.7},{"d":"2026-01-23","r":40.4},{"d":"2026-01-24","r":40},{"d":"2026-01-25","r":31.9},{"d":"2026-01-26","r":40.4},{"d":"2026-01-27","r":44.7},{"d":"2026-01-28","r":42.4},{"d":"2026-01-29","r":35.7},{"d":"2026-01-30","r":35.3},{"d":"2026-01-31","r":27.1},
{"d":"2026-02-01","r":24.7},{"d":"2026-02-02","r":30},{"d":"2026-02-03","r":26.4},{"d":"2026-02-04","r":23.9},{"d":"2026-02-05","r":18.4},{"d":"2026-02-06","r":29.5},{"d":"2026-02-07","r":29.5},{"d":"2026-02-08","r":29.1}],
"rsiMa":[
{"d":"2025-08-04","r":54.4},{"d":"2025-08-05","r":51.3},{"d":"2025-08-08","r":50.1},{"d":"2025-08-11","r":49.5},{"d":"2025-08-13","r":50.8},{"d":"2025-08-15","r":52.8},{"d":"2025-08-17","r":55.1},{"d":"2025-08-21","r":56.1},{"d":"2025-08-25","r":56.8},{"d":"2025-08-28","r":55.7},{"d":"2025-09-01","r":55.3},{"d":"2025-09-04","r":57.3},{"d":"2025-09-07","r":55.7},{"d":"2025-09-11","r":58.4},{"d":"2025-09-14","r":61.1},{"d":"2025-09-18","r":64.4},{"d":"2025-09-21","r":66},{"d":"2025-09-22","r":64.7},{"d":"2025-09-25","r":61.1},{"d":"2025-09-28","r":53.7},{"d":"2025-10-01","r":49.5},{"d":"2025-10-04","r":48.1},{"d":"2025-10-07","r":49.5},{"d":"2025-10-09","r":50.8},{"d":"2025-10-14","r":50},{"d":"2025-10-17","r":45.7},{"d":"2025-10-22","r":40.7},{"d":"2025-10-25","r":43.3},{"d":"2025-10-30","r":43.7},{"d":"2025-11-02","r":44.4},{"d":"2025-11-07","r":41.7},{"d":"2025-11-10","r":39.5},{"d":"2025-11-12","r":37.5},{"d":"2025-11-17","r":33.1},{"d":"2025-11-21","r":32.7},{"d":"2025-11-26","r":34.4},{"d":"2025-12-01","r":37.5},{"d":"2025-12-05","r":41.5},{"d":"2025-12-09","r":43.3},{"d":"2025-12-15","r":44.1},{"d":"2025-12-19","r":41.7},{"d":"2025-12-23","r":41.1},{"d":"2025-12-26","r":39.3},{"d":"2025-12-30","r":40.1},{"d":"2026-01-03","r":44.7},{"d":"2026-01-06","r":49.5},{"d":"2026-01-11","r":55.7},{"d":"2026-01-15","r":61.1},{"d":"2026-01-17","r":62.4},{"d":"2026-01-20","r":59.1},{"d":"2026-01-24","r":53.5},{"d":"2026-01-28","r":44.4},{"d":"2026-02-02","r":37.1},{"d":"2026-02-06","r":32.4},{"d":"2026-02-08","r":31.1}],
"heat":[
{"d":"2025-10-30T22:00:00Z","d2":"2025-11-12T05:00:00Z","dm":"2025-11-05T22:00:00Z","p":157.14,"p2":155.11,"pm":156.1,"val":294,"t":"294%"},{"d":"2025-10-30T22:00:00Z","d2":"2025-11-12T05:00:00Z","dm":"2025-11-05T22:00:00Z","p":155.11,"p2":153.08,"pm":154.1,"val":291,"t":"291%"},{"d":"2025-10-30T22:00:00Z","d2":"2025-11-12T05:00:00Z","dm":"2025-11-05T22:00:00Z","p":153.08,"p2":151.04,"pm":152.1,"val":297,"t":"297%"},{"d":"2025-10-30T22:00:00Z","d2":"2025-11-12T05:00:00Z","dm":"2025-11-05T22:00:00Z","p":151.04,"p2":149.01,"pm":150,"val":297,"t":"297%"},{"d":"2025-10-30T22:00:00Z","d2":"2025-11-12T05:00:00Z","dm":"2025-11-05T22:00:00Z","p":149.01,"p2":146.98,"pm":148,"val":-52,"t":"52%"},{"d":"2025-10-30T22:00:00Z","d2":"2025-11-12T05:00:00Z","dm":"2025-11-05T22:00:00Z","p":146.98,"p2":144.95,"pm":146,"val":60,"t":"77%"},{"d":"2025-10-30T22:00:00Z","d2":"2025-11-12T05:00:00Z","dm":"2025-11-05T22:00:00Z","p":144.95,"p2":142.92,"pm":143.9,"val":474,"t":"474%"},{"d":"2025-10-30T22:00:00Z","d2":"2025-11-12T05:00:00Z","dm":"2025-11-05T22:00:00Z","p":142.92,"p2":140.88,"pm":141.9,"val":681,"t":"681%"},{"d":"2025-10-30T22:00:00Z","d2":"2025-11-12T05:00:00Z","dm":"2025-11-05T22:00:00Z","p":140.88,"p2":138.85,"pm":139.9,"val":338,"t":"338%"},{"d":"2025-10-30T22:00:00Z","d2":"2025-11-12T05:00:00Z","dm":"2025-11-05T22:00:00Z","p":138.85,"p2":136.82,"pm":137.8,"val":129,"t":"129%"},{"d":"2025-10-30T22:00:00Z","d2":"2025-11-12T05:00:00Z","dm":"2025-11-05T22:00:00Z","p":136.82,"p2":134.79,"pm":135.8,"val":436,"t":"436%"},{"d":"2025-10-30T22:00:00Z","d2":"2025-11-12T05:00:00Z","dm":"2025-11-05T22:00:00Z","p":134.79,"p2":132.76,"pm":133.8,"val":615,"t":"615%"},{"d":"2025-10-30T22:00:00Z","d2":"2025-11-12T05:00:00Z","dm":"2025-11-05T22:00:00Z","p":132.76,"p2":130.72,"pm":131.7,"val":410,"t":"410%"},{"d":"2025-10-30T22:00:00Z","d2":"2025-11-12T05:00:00Z","dm":"2025-11-05T22:00:00Z","p":130.72,"p2":128.69,"pm":129.7,"val":966,"t":"966%"},{"d":"2025-10-30T22:00:00Z","d2":"2025-11-12T05:00:00Z","dm":"2025-11-05T22:00:00Z","p":128.69,"p2":126.66,"pm":127.7,"val":1088,"t":"1088%"},{"d":"2025-10-30T22:00:00Z","d2":"2025-11-12T05:00:00Z","dm":"2025-11-05T22:00:00Z","p":126.66,"p2":124.63,"pm":125.6,"val":877,"t":"877%"},{"d":"2025-10-30T22:00:00Z","d2":"2025-11-12T05:00:00Z","dm":"2025-11-05T22:00:00Z","p":124.63,"p2":122.6,"pm":123.6,"val":1100,"t":"1100%"},{"d":"2025-10-30T22:00:00Z","d2":"2025-11-12T05:00:00Z","dm":"2025-11-05T22:00:00Z","p":122.6,"p2":120.56,"pm":121.6,"val":752,"t":"752%"},{"d":"2025-10-30T22:00:00Z","d2":"2025-11-12T05:00:00Z","dm":"2025-11-05T22:00:00Z","p":120.56,"p2":118.53,"pm":119.5,"val":386,"t":"386%"},{"d":"2025-10-30T22:00:00Z","d2":"2025-11-12T05:00:00Z","dm":"2025-11-05T22:00:00Z","p":118.53,"p2":116.5,"pm":117.5,"val":370,"t":"370%"}]
},
"vconcat":[
{"width":2178,"height":1121,
"encoding":{"x":{"field":"d","type":"temporal","title":null,"scale":{"type":"utc","domain":[{"year":2025,"month":8,"date":4,"hours":4,"utc":true},{"year":2026,"month":5,"date":21,"hours":5,"utc":true}]},"axis":{"labels":false,"values":[{"year":2025,"month":9,"date":1,"utc":true},{"year":2025,"month":10,"date":1,"utc":true},{"year":2025,"month":11,"date":1,"utc":true},{"year":2025,"month":12,"date":1,"utc":true},{"year":2026,"month":1,"date":1,"utc":true},{"year":2026,"month":2,"date":1,"utc":true},{"year":2026,"month":3,"date":1,"utc":true},{"year":2026,"month":4,"date":1,"utc":true},{"year":2026,"month":5,"date":1,"utc":true}]}}},
"layer":[
{"encoding":{"y":{"field":"p","type":"quantitative","title":null,"scale":{"domain":[15.77,166.8],"nice":false,"zero":false},"axis":{"orient":"right","values":[20,30,40,50,60,70,80,90,100,110,120,130,140,150],"format":".2f","labelPadding":19,"labelAlign":"left"}}},
"layer":[
{"data":{"values":[{"d":"2025-08-06T07:00:00Z","p":162.8,"t":"SOL / TetherUS PERPETUAL CONTRACT · 1天 · Binance"},{"d":"2025-10-25T01:00:00Z","p":162.8,"t":"开="},{"d":"2025-11-08T20:00:00Z","p":162.8,"t":"高="},{"d":"2025-11-23T12:00:00Z","p":162.8,"t":"低="},{"d":"2025-12-08T03:00:00Z","p":162.8,"t":"收="},{"d":"2025-08-04T04:00:00Z","p":170.1,"t":"coldfreddychen与TradingView.com共创，2月 08, 2026 13:50 UTC+8"}]},"mark":{"type":"text","align":"left","baseline":"middle","fontSize":21.4,"color":"#131722"},"encoding":{"text":{"field":"t"}}},
{"data":{"values":[{"d":"2025-09-20T02:00:00Z","p":132.8,"t":"0.618 (129.64)"}]},"mark":{"type":"text","align":"left","baseline":"middle","fontSize":20.5,"color":"#131722"},"encoding":{"text":{"field":"t"}}},
{"data":{"values":[{"d":"2025-10-29T20:00:00Z","p":162.8,"t":"87.51"},{"d":"2025-11-13T12:00:00Z","p":162.8,"t":"88.15"},{"d":"2025-11-28T04:00:00Z","p":162.8,"t":"86.53"},{"d":"2025-12-12T19:00:00Z","p":162.8,"t":"87.05"},{"d":"2025-12-22T19:00:00Z","p":162.8,"t":"−0.46 (−0.53%)"}]},"mark":{"type":"text","align":"left","baseline":"middle","fontSize":21,"color":"#CC3D52"},"encoding":{"text":{"field":"t"}}},
{"data":{"values":[{"d":"2025-09-20T02:00:00Z","p":56.2,"t":"1 (53.08)"}]},"mark":{"type":"text","align":"left","baseline":"middle","fontSize":20.5,"color":"#EBA22F"},"encoding":{"text":{"field":"t"}}},
{"data":{"values":[{"d":"2025-08-04T04:00:00Z","d2":"2025-09-18T00:00:00Z","p":129.64}]},"mark":{"type":"rule","color":"#000000","strokeWidth":2.5},"encoding":{"x2":{"field":"d2"}}},
{"data":{"values":[{"d":"2025-08-04T04:00:00Z","d2":"2025-09-18T00:00:00Z","p":53.08}]},"mark":{"type":"rule","color":"#E8A33D","strokeWidth":2.5},"encoding":{"x2":{"field":"d2"}}},
{"data":{"values":[{"d":"2025-11-12T05:00:00Z","d2":"2026-01-30T00:00:00Z","p":152.56,"p2":121.3}]},"mark":{"type":"rect","color":"#787b86","opacity":0.2},"encoding":{"x2":{"field":"d2"},"y2":{"field":"p2"}}},
{"data":{"values":[{"d":"2025-11-12T05:00:00Z","d2":"2026-01-30T00:00:00Z","p":157.14,"p2":152.56}]},"mark":{"type":"rect","color":"#e53935","opacity":0.45},"encoding":{"x2":{"field":"d2"},"y2":{"field":"p2"}}},
{"data":{"values":[{"d":"2025-11-12T05:00:00Z","d2":"2026-01-30T00:00:00Z","p":121.3,"p2":116.7}]},"mark":{"type":"rect","color":"#00796b","opacity":0.38},"encoding":{"x2":{"field":"d2"},"y2":{"field":"p2"}}},
{"data":{"values":[{"d":"2025-10-20T00:00:00Z","d2":"2025-11-03T00:00:00Z","p":172,"p2":163.1}]},"mark":{"type":"rect","color":"#00796b","opacity":0.38,"clip":true},"encoding":{"x2":{"field":"d2"},"y2":{"field":"p2"}}},
{"data":{"values":[{"d":"2025-10-16T22:00:00Z","d2":"2025-10-20T00:00:00Z","p":172,"p2":163.1}]},"mark":{"type":"rect","color":"#FFB6B0","clip":true},"encoding":{"x2":{"field":"d2"},"y2":{"field":"p2"}}},
{"data":{"name":"heat"},"mark":{"type":"rect"},"encoding":{"x2":{"field":"d2"},"y2":{"field":"p2"},"color":{"field":"val","type":"quantitative","legend":null,"scale":{"domain":[-600,0,1100],"range":["#089981","#ffffff","#ff0000"],"interpolate":"rgb"}}}},
{"data":{"name":"heat"},"mark":{"type":"text","fontSize":9,"color":"#ffffff","fontWeight":"bold"},"encoding":{"x":{"field":"dm","type":"temporal"},"y":{"field":"pm","type":"quantitative","title":null,"axis":{"orient":"right","values":[20,30,40,50,60,70,80,90,100,110,120,130,140,150],"format":".2f","labelPadding":19,"labelAlign":"left"}},"text":{"field":"t"}}},
{"data":{"values":[{"d":"2025-10-27T00:00:00Z","p":166.3,"t":"整体情绪: 空头占优"}]},"mark":{"type":"text","fontSize":9.5,"color":"#131722"},"encoding":{"text":{"field":"t"}}},
{"data":{"values":[{"d":"2025-10-18T11:00:00Z","p":166.3,"t":"109%"},{"d":"2025-10-18T11:00:00Z","p":164.2,"t":"109%"}]},"mark":{"type":"text","fontSize":9,"color":"#ffffff","fontWeight":"bold"},"encoding":{"text":{"field":"t"}}},
{"data":{"values":[{"d":"2025-12-21T06:00:00Z","p":154.8,"t":"当前情绪: -34%"}]},"mark":{"type":"text","fontSize":18,"color":"#E53935"},"encoding":{"text":{"field":"t"}}},
{"data":{"values":[{"d":"2025-12-21T00:00:00Z","p":119,"t":"整体情绪: 空头占优"}]},"mark":{"type":"text","fontSize":19,"color":"#131722"},"encoding":{"text":{"field":"t"}}},
{"data":{"values":[{"d":"2026-01-18T10:00:00Z","d2":"2026-01-30T00:00:00Z","p":137.8,"p2":115.85},{"d":"2026-02-04T12:00:00Z","d2":"2026-02-08T12:00:00Z","p":92.2,"p2":67.1}]},"mark":{"type":"rect","color":"#64B5F6","opacity":0.12},"encoding":{"x2":{"field":"d2"},"y2":{"field":"p2"}}},
{"data":{"name":"candles"},"mark":{"type":"rule","strokeWidth":2,"clip":true},"encoding":{"y":{"field":"l","type":"quantitative","title":null,"axis":{"orient":"right","values":[20,30,40,50,60,70,80,90,100,110,120,130,140,150],"format":".2f","labelPadding":19,"labelAlign":"left"}},"y2":{"field":"h"},"color":{"condition":{"test":"datum.c>=datum.o","value":"#12967F"},"value":"#E5404F"}}},
{"data":{"name":"candles"},"mark":{"type":"bar","size":6,"clip":true},"encoding":{"y":{"field":"o","type":"quantitative","title":null,"axis":{"orient":"right","values":[20,30,40,50,60,70,80,90,100,110,120,130,140,150],"format":".2f","labelPadding":19,"labelAlign":"left"}},"y2":{"field":"c"},"color":{"condition":{"test":"datum.c>=datum.o","value":"#12967F"},"value":"#E5404F"}}}
]},
{"data":{"name":"volume"},
"encoding":{"y":{"field":"v","type":"quantitative","title":null,"axis":null,"scale":{"domain":[-2,1119],"nice":false,"zero":false}}},
"layer":[
{"mark":{"type":"bar","size":6,"opacity":0.42,"clip":true},"encoding":{"y2":{"datum":0},"color":{"condition":{"test":"datum.up==1","value":"#159e88"},"value":"#ec3a4a"}}},
{"mark":{"type":"line","color":"#2F5FDC","strokeWidth":2,"clip":true},"encoding":{"y":{"field":"ma","type":"quantitative","axis":null}}}
]},
{"encoding":{"y":{"field":"p","type":"quantitative","title":null,"axis":null,"scale":{"domain":[15.77,166.8],"nice":false,"zero":false}}},
"layer":[
{"data":{"values":[{"d":"2025-08-04T04:00:00Z","d2":"2026-05-21T12:00:00Z","p":95.19}]},"mark":{"type":"rule","color":"#E5404F","strokeWidth":1.5},"encoding":{"x2":{"field":"d2"}}},
{"data":{"values":[{"d":"2026-02-01T12:00:00Z","d2":"2026-05-21T12:00:00Z","p":106.67}]},"mark":{"type":"rule","color":"#E5404F","strokeWidth":1.5},"encoding":{"x2":{"field":"d2"}}},
{"data":{"values":[{"d":"2025-08-04T04:00:00Z","d2":"2026-05-21T12:00:00Z","p":87.05}]},"mark":{"type":"rule","color":"#E5404F","strokeWidth":1.5,"strokeDash":[2,5]},"encoding":{"x2":{"field":"d2"}}},
{"data":{"values":[{"d":"2025-08-04T04:00:00Z","d2":"2026-05-21T12:00:00Z","p":51.17}]},"mark":{"type":"rule","color":"#5C9E62","strokeWidth":2},"encoding":{"x2":{"field":"d2"}}},
{"data":{"values":[{"d":"2025-08-04T04:00:00Z","d2":"2026-05-21T12:00:00Z","p":38.93}]},"mark":{"type":"rule","color":"#DD3B4C","strokeWidth":4},"encoding":{"x2":{"field":"d2"}}},
{"data":{"values":[{"d":"2025-12-26T00:00:00Z","d2":"2026-05-21T15:00:00Z","p":166.8,"p2":38.7}]},"mark":{"type":"rule","color":"#F0B83E","strokeWidth":4},"encoding":{"x2":{"field":"d2"},"y2":{"field":"p2"}}},
{"data":{"values":[{"d":"2026-01-18T10:00:00Z","p":134.5,"d0":"2026-01-18T10:00:00Z"},{"d":"2026-01-19T04:00:00Z","p":134,"d0":"2026-01-18T10:00:00Z"},{"d":"2026-01-18T10:00:00Z","p":133,"d0":"2026-01-18T10:00:00Z"},{"d":"2026-01-18T14:00:00Z","p":131,"d0":"2026-01-18T10:00:00Z"},{"d":"2026-01-19T00:00:00Z","p":129,"d0":"2026-01-18T10:00:00Z"},{"d":"2026-01-20T20:00:00Z","p":127.1,"d0":"2026-01-18T10:00:00Z"},{"d":"2026-01-19T00:00:00Z","p":125.8,"d0":"2026-01-18T10:00:00Z"},{"d":"2026-01-18T14:00:00Z","p":124,"d0":"2026-01-18T10:00:00Z"},{"d":"2026-01-18T14:00:00Z","p":121.3,"d0":"2026-01-18T10:00:00Z"},{"d":"2026-01-18T14:00:00Z","p":119,"d0":"2026-01-18T10:00:00Z"},{"d":"2026-01-19T00:00:00Z","p":117.9,"d0":"2026-01-18T10:00:00Z"},{"d":"2026-01-18T14:00:00Z","p":116.8,"d0":"2026-01-18T10:00:00Z"}]},"mark":{"type":"area","orient":"horizontal","color":"#2962FF"},"encoding":{"x2":{"field":"d0"},"y":{"field":"p","type":"quantitative","stack":null,"axis":null}}},
{"data":{"values":[{"d":"2026-01-19T04:00:00Z","p":134.05},{"d":"2026-01-18T18:00:00Z","p":133.05},{"d":"2026-01-18T20:00:00Z","p":131.06},{"d":"2026-01-19T10:00:00Z","p":129.8},{"d":"2026-01-19T08:00:00Z","p":128.8},{"d":"2026-01-20T04:00:00Z","p":127.8},{"d":"2026-01-21T04:00:00Z","p":127.07},{"d":"2026-01-19T18:00:00Z","p":126.3},{"d":"2026-01-19T00:00:00Z","p":125.3},{"d":"2026-01-19T00:00:00Z","p":124.3},{"d":"2026-01-19T04:00:00Z","p":122.8},{"d":"2026-01-18T10:00:00Z","p":121.3}]},"mark":{"type":"line","color":"#F0B83E","strokeWidth":2.5},"encoding":{"order":{"field":"p","sort":"descending"}}},
{"data":{"values":[{"d":"2026-01-18T10:00:00Z","p":119.3},{"d":"2026-01-19T04:00:00Z","p":117.85},{"d":"2026-01-18T10:00:00Z","p":116.1}]},"mark":{"type":"line","color":"#F0B83E","strokeWidth":2.5},"encoding":{"order":{"field":"p","sort":"descending"}}},
{"data":{"values":[{"d":"2026-02-04T12:00:00Z","p":92,"p2":78}]},"mark":{"type":"rule","color":"#2962FF","strokeWidth":2.5},"encoding":{"y2":{"field":"p2"}}},
{"data":{"values":[{"d":"2026-02-04T17:00:00Z","p":91.2},{"d":"2026-02-04T19:00:00Z","p":88.9},{"d":"2026-02-05T05:00:00Z","p":87.1},{"d":"2026-02-04T18:00:00Z","p":84.4},{"d":"2026-02-04T22:00:00Z","p":81.95},{"d":"2026-02-04T18:00:00Z","p":79.45},{"d":"2026-02-05T04:00:00Z","p":78.2}]},"mark":{"type":"line","color":"#F0B83E","strokeWidth":2},"encoding":{"order":{"field":"p","sort":"descending"}}},
{"data":{"values":[{"d":"2026-01-18T12:00:00Z","d2":"2026-01-29T12:00:00Z","p":130.7},{"d":"2026-01-18T12:00:00Z","d2":"2026-01-29T12:00:00Z","p":121.3},{"d":"2026-02-04T12:00:00Z","d2":"2026-02-08T10:00:00Z","p":92.07},{"d":"2026-02-04T12:00:00Z","d2":"2026-02-08T10:00:00Z","p":80.35}]},"mark":{"type":"rule","color":"#2962FF","strokeWidth":3.5},"encoding":{"x2":{"field":"d2"}}},
{"data":{"values":[{"d":"2026-01-20T02:00:00Z","d2":"2026-01-29T12:00:00Z","p":127.1},{"d":"2026-02-04T19:00:00Z","d2":"2026-02-08T10:00:00Z","p":87.1}]},"mark":{"type":"rule","color":"#E5404F","strokeWidth":3.5},"encoding":{"x2":{"field":"d2"}}},
{"data":{"values":[{"d":"2026-01-31","p":118.9,"p2":105.2},{"d":"2026-02-01","p":106.6,"p2":100.65},{"d":"2026-02-02","p":106.5,"p2":104.3},{"d":"2026-02-03","p":106,"p2":97.6},{"d":"2026-02-04","p":103.9,"p2":91.8},{"d":"2026-02-05","p":101.4,"p2":87},{"d":"2026-02-06","p":99.4,"p2":87},{"d":"2026-02-07","p":97.9,"p2":87.5},{"d":"2026-02-08","p":97,"p2":87.05}]},"mark":{"type":"area","color":"#f23645","opacity":0.25},"encoding":{"y2":{"field":"p2"}}},
{"data":{"values":[{"d":"2026-01-31","p":118.9},{"d":"2026-02-01","p":106.6},{"d":"2026-02-02","p":106.5},{"d":"2026-02-03","p":106},{"d":"2026-02-04","p":103.9},{"d":"2026-02-05","p":101.4},{"d":"2026-02-06","p":99.4},{"d":"2026-02-07","p":97.9},{"d":"2026-02-08","p":97}]},"mark":{"type":"line","color":"#E8241F","strokeWidth":4,"interpolate":"monotone"},"encoding":{}},
{"data":{"values":[{"d":"2025-11-04T00:00:00Z","p":166.7},{"d":"2025-11-05T00:00:00Z","p":164},{"d":"2025-11-06T04:00:00Z","p":163.3},{"d":"2025-11-07T08:00:00Z","p":163.6},{"d":"2025-11-09T00:00:00Z","p":164.5}]},"mark":{"type":"line","color":"#E8241F","strokeWidth":4,"clip":true},"encoding":{}},
{"data":{"values":[{"d":"2026-01-30T22:00:00Z","p":125.9}]},"mark":{"type":"point","shape":"triangle-down","size":3136,"filled":true,"color":"#FF0F00","opacity":0.92},"encoding":{}},
{"data":{"values":[{"d":"2026-04-12T06:00:00Z","d2":"2026-04-17T10:00:00Z","p":87.05,"p2":51.17}]},"mark":{"type":"rect","color":"#2962FF","opacity":0.16},"encoding":{"x2":{"field":"d2"},"y2":{"field":"p2"}}},
{"data":{"values":[{"d":"2026-04-14T17:00:00Z","p":87.05,"p2":51.17}]},"mark":{"type":"rule","color":"#2962FF","strokeWidth":3},"encoding":{"y2":{"field":"p2"}}},
{"data":{"values":[{"d":"2026-04-12T06:00:00Z","d2":"2026-04-17T10:00:00Z","p":87.05},{"d":"2026-04-12T06:00:00Z","d2":"2026-04-17T10:00:00Z","p":51.17}]},"mark":{"type":"rule","color":"#2962FF","strokeWidth":3},"encoding":{"x2":{"field":"d2"}}},
{"data":{"values":[{"d":"2026-04-11T20:00:00Z","p":53.9},{"d":"2026-04-14T17:00:00Z","p":51.17},{"d":"2026-04-17T20:00:00Z","p":53.9}]},"mark":{"type":"line","color":"#2962FF","strokeWidth":3},"encoding":{}},
{"data":{"values":[{"d":"2026-03-26T03:00:00Z","d2":"2026-05-04T16:00:00Z","p":48.25,"p2":41.5}]},"mark":{"type":"rect","color":"#ffffff","stroke":"#e6e7ea","strokeWidth":1.5,"cornerRadius":7},"encoding":{"x2":{"field":"d2"},"y2":{"field":"p2"}}},
{"data":{"values":[{"d":"2026-04-14T20:00:00Z","p":44.9,"t":"−35.52 (−40.99%) −3,552"}]},"mark":{"type":"text","fontSize":20,"color":"#131722"},"encoding":{"text":{"field":"t"}}},
{"data":{"values":[{"d":"2026-02-27T02:00:00Z","p":51.21,"p2":51.21},{"d":"2026-03-14T20:00:00Z","p":37.63,"p2":33.69},{"d":"2026-03-16T18:00:00Z","p":35.98,"p2":33}]},"mark":{"type":"area","color":"#3FAAB8","opacity":0.92},"encoding":{"y2":{"field":"p2"}}},
{"data":{"values":[{"d":"2026-03-14T20:00:00Z","d2":"2026-04-22T18:00:00Z","p":35.98,"p2":22.8}]},"mark":{"type":"rect","color":"#4DB6C4","stroke":"#1F8F9C","strokeWidth":1.5,"cornerRadius":14},"encoding":{"x2":{"field":"d2"},"y2":{"field":"p2"}}},
{"data":{"values":[{"d":"2026-03-17T15:00:00Z","p":31.5,"t":"自顶到底1:1为止"},{"d":"2026-03-17T15:00:00Z","p":27.6,"t":"重合一个小型平行底"}]},"mark":{"type":"text","align":"left","fontSize":28,"color":"#ffffff"},"encoding":{"text":{"field":"t"}}},
{"data":{"values":[{"d":"2026-05-21T22:00:00Z","d2":"2026-06-03T22:00:00Z","p":108.89,"p2":104.45},{"d":"2026-05-21T22:00:00Z","d2":"2026-06-03T22:00:00Z","p":97.41,"p2":92.97},{"d":"2026-05-21T22:00:00Z","d2":"2026-06-03T22:00:00Z","p":89.27,"p2":84.83},{"d":"2026-05-04T03:00:00Z","d2":"2026-05-21T08:00:00Z","p":89.27,"p2":84.83},{"d":"2026-05-21T22:00:00Z","d2":"2026-06-03T22:00:00Z","p":41.15,"p2":36.71}]},"mark":{"type":"rect","color":"#F23645","cornerRadius":3},"encoding":{"x2":{"field":"d2"},"y2":{"field":"p2"}}},
{"data":{"values":[{"d":"2026-05-21T22:00:00Z","d2":"2026-06-03T22:00:00Z","p":53.39,"p2":48.95}]},"mark":{"type":"rect","color":"#4CAF50","cornerRadius":3},"encoding":{"x2":{"field":"d2"},"y2":{"field":"p2"}}},
{"data":{"values":[{"d":"2026-05-28T12:00:00Z","p":106.67,"t":"106.67"},{"d":"2026-05-28T12:00:00Z","p":95.19,"t":"95.19"},{"d":"2026-05-28T12:00:00Z","p":87.05,"t":"87.05"},{"d":"2026-05-12T18:00:00Z","p":87.05,"t":"SOLUSDT.P"},{"d":"2026-05-28T12:00:00Z","p":51.17,"t":"51.17"},{"d":"2026-05-28T12:00:00Z","p":38.93,"t":"38.93"}]},"mark":{"type":"text","fontSize":20,"color":"#ffffff"},"encoding":{"text":{"field":"t"}}},
{"data":{"values":[{"d":"2026-05-22T10:00:00Z","d2":"2026-06-03T12:00:00Z","p":165.8,"p2":158.9}]},"mark":{"type":"rect","color":"#ffffff","stroke":"#f0f3fa","strokeWidth":1.5,"cornerRadius":7},"encoding":{"x2":{"field":"d2"},"y2":{"field":"p2"}}},
{"data":{"values":[{"d":"2026-05-28T12:00:00Z","p":162.3,"t":"USDT"}]},"mark":{"type":"text","fontSize":20,"color":"#131722"},"encoding":{"text":{"field":"t"}}},
{"data":{"values":[{"d":"2025-08-04T04:00:00Z","d2":"2026-06-04T10:00:00Z","p":166.8}]},"mark":{"type":"rule","color":"#f0f3fa","strokeWidth":1.5},"encoding":{"x2":{"field":"d2"}}},
{"data":{"values":[{"d":"2025-08-04T04:00:00Z","p":166.8,"p2":15.77},{"d":"2026-06-04T10:00:00Z","p":166.8,"p2":15.77}]},"mark":{"type":"rule","color":"#f0f3fa","strokeWidth":1.5},"encoding":{"y2":{"field":"p2"}}}
]}
],
"resolve":{"scale":{"y":"independent"},"axis":{"y":"independent"}}
},
{"width":2178,"height":246,
"encoding":{"x":{"field":"d","type":"temporal","title":null,"scale":{"type":"utc","domain":[{"year":2025,"month":8,"date":4,"hours":4,"utc":true},{"year":2026,"month":5,"date":21,"hours":5,"utc":true}]},"axis":{"labels":false,"values":[{"year":2025,"month":9,"date":1,"utc":true},{"year":2025,"month":10,"date":1,"utc":true},{"year":2025,"month":11,"date":1,"utc":true},{"year":2025,"month":12,"date":1,"utc":true},{"year":2026,"month":1,"date":1,"utc":true},{"year":2026,"month":2,"date":1,"utc":true},{"year":2026,"month":3,"date":1,"utc":true},{"year":2026,"month":4,"date":1,"utc":true},{"year":2026,"month":5,"date":1,"utc":true}]}},
"y":{"field":"m","type":"quantitative","title":null,"scale":{"domain":[-5.32,5.21],"nice":false,"zero":false},"axis":{"orient":"right","values":[-4,0,4],"format":".2f","labelPadding":19,"labelAlign":"left"}}},
"layer":[
{"data":{"name":"hist"},"mark":{"type":"bar","size":6,"clip":true},"encoding":{"y":{"field":"h","type":"quantitative","title":null,"axis":{"orient":"right","values":[-4,0,4],"format":".2f","labelPadding":19,"labelAlign":"left"}},"y2":{"datum":0},"color":{"field":"s","type":"nominal","legend":null,"scale":{"domain":["dg","lg","dr","lr"],"range":["#2B9C8C","#B2DFDB","#EF5350","#FFCDD2"]}}}},
{"data":{"name":"macd"},"transform":[{"filter":"datum.k=='m'"}],"mark":{"type":"line","color":"#3E5FC9","strokeWidth":2,"clip":true},"encoding":{"detail":{"field":"seg"}}},
{"data":{"name":"macd"},"transform":[{"filter":"datum.k=='s'"}],"mark":{"type":"line","color":"#E07B27","strokeWidth":2,"clip":true},"encoding":{"detail":{"field":"seg"}}},
{"data":{"values":[{"d":"2025-08-04T04:00:00Z","m":-5.32,"m2":5.21},{"d":"2026-06-04T10:00:00Z","m":-5.32,"m2":5.21}]},"mark":{"type":"rule","color":"#f0f3fa","strokeWidth":1.5},"encoding":{"y2":{"field":"m2"}}},
{"data":{"values":[{"d":"2025-08-04T04:00:00Z","d2":"2026-06-04T10:00:00Z","m":5.21},{"d":"2025-08-04T04:00:00Z","d2":"2026-06-04T10:00:00Z","m":-5.32}]},"mark":{"type":"rule","color":"#e0e3eb","strokeWidth":3},"encoding":{"x2":{"field":"d2"}}}
]},
{"width":2178,"height":154,
"encoding":{"x":{"field":"d","type":"temporal","title":null,"scale":{"type":"utc","domain":[{"year":2025,"month":8,"date":4,"hours":4,"utc":true},{"year":2026,"month":5,"date":21,"hours":5,"utc":true}]},"axis":{"labelPadding":19,"labelFontSize":21,"labelExpr":"utcmonth(datum.value)==0 ? utcyear(datum.value)+'' : (utcmonth(datum.value)+1)+'月'","labelFontWeight":{"condition":{"test":"utcmonth(datum.value)==0","value":"bold"},"value":"normal"},"labelFont":"DejaVu Sans, Noto Sans CJK SC","values":[{"year":2025,"month":9,"date":1,"utc":true},{"year":2025,"month":10,"date":1,"utc":true},{"year":2025,"month":11,"date":1,"utc":true},{"year":2025,"month":12,"date":1,"utc":true},{"year":2026,"month":1,"date":1,"utc":true},{"year":2026,"month":2,"date":1,"utc":true},{"year":2026,"month":3,"date":1,"utc":true},{"year":2026,"month":4,"date":1,"utc":true},{"year":2026,"month":5,"date":1,"utc":true}]}},
"y":{"field":"r","type":"quantitative","title":null,"scale":{"domain":[17,78.6],"nice":false,"zero":false},"axis":{"orient":"right","values":[25,50,75],"format":".2f","labelPadding":19,"labelAlign":"left"}}},
"layer":[
{"data":{"values":[{"d":"2025-08-04T04:00:00Z","d2":"2025-09-24T00:00:00Z","r":30,"r2":70,"z":"a"},{"d":"2025-09-24T00:00:00Z","d2":"2026-01-04T00:00:00Z","r":30,"r2":70,"z":"b"},{"d":"2026-01-04T00:00:00Z","d2":"2026-01-24T00:00:00Z","r":30,"r2":70,"z":"a"},{"d":"2026-01-24T00:00:00Z","d2":"2026-02-08T00:00:00Z","r":30,"r2":70,"z":"b"}]},"mark":{"type":"rect"},"encoding":{"x2":{"field":"d2"},"y2":{"field":"r2"},"color":{"field":"z","type":"nominal","legend":null,"scale":{"domain":["a","b"],"range":["#D9F2D5","#FFD3D6"]}}}},
{"data":{"values":[{"d":"2025-08-04T04:00:00Z","d2":"2026-05-21T12:00:00Z","r":60}]},"mark":{"type":"rule","color":"#6AA36E","strokeWidth":1.8,"strokeDash":[8,8]},"encoding":{"x2":{"field":"d2"}}},
{"data":{"values":[{"d":"2025-08-04T04:00:00Z","d2":"2026-05-21T12:00:00Z","r":35}]},"mark":{"type":"rule","color":"#CC6666","strokeWidth":1.8,"strokeDash":[8,8]},"encoding":{"x2":{"field":"d2"}}},
{"data":{"values":[{"d":"2025-08-04T04:00:00Z","d2":"2026-05-21T12:00:00Z","r":70},{"d":"2025-08-04T04:00:00Z","d2":"2026-05-21T12:00:00Z","r":30}]},"mark":{"type":"rule","color":"#000000","strokeWidth":2.2},"encoding":{"x2":{"field":"d2"}}},
{"data":{"name":"rsiMa"},"mark":{"type":"line","color":"#FFE97F","strokeWidth":3,"interpolate":"monotone","clip":true},"encoding":{}},
{"data":{"name":"rsi"},"mark":{"type":"line","color":"#2F7F7C","strokeWidth":3.5,"clip":true},"encoding":{}},
{"data":{"values":[{"d":"2025-08-12T20:00:00Z","r":67.1},{"d":"2025-08-28T00:00:00Z","r":62.7}]},"mark":{"type":"line","color":"#EF5350","strokeWidth":7},"encoding":{}},
{"data":{"values":[{"d":"2025-11-17T00:00:00Z","r":26.7},{"d":"2025-12-01T00:00:00Z","r":33.3}]},"mark":{"type":"line","color":"#43A047","strokeWidth":7},"encoding":{}},
{"data":{"values":[{"d":"2025-08-04T04:00:00Z","d2":"2026-06-04T10:00:00Z","r":-5.8}]},"mark":{"type":"rule","color":"#f0f3fa","strokeWidth":1.5},"encoding":{"x2":{"field":"d2"}}},
{"data":{"values":[{"d":"2025-08-04T04:00:00Z","r":78.6,"r2":-5.8},{"d":"2026-06-04T10:00:00Z","r":78.6,"r2":-5.8}]},"mark":{"type":"rule","color":"#f0f3fa","strokeWidth":1.5},"encoding":{"y2":{"field":"r2"}}},
{"data":{"values":[{"d":"2025-08-04T17:00:00Z","d2":"2025-08-08T10:00:00Z","r":-24.1,"r2":-28.1},{"d":"2025-08-06T14:00:00Z","d2":"2025-08-08T10:00:00Z","r":-24.1,"r2":-35.3}]},"mark":{"type":"rect","color":"#131722"},"encoding":{"x2":{"field":"d2"},"y2":{"field":"r2"}}},
{"data":{"values":[{"d":"2025-08-09T10:00:00Z","r":-26}]},"mark":{"type":"point","filled":true,"size":120,"opacity":1,"color":"#131722"},"encoding":{}},
{"data":{"values":[{"d":"2025-08-11T22:00:00Z","r":-24.1},{"d":"2025-08-10T06:00:00Z","r":-35.3}]},"mark":{"type":"line","color":"#131722","strokeWidth":12},"encoding":{}},
{"data":{"values":[{"d":"2025-08-14T14:00:00Z","r":-29.3,"t":"TradingView"}]},"mark":{"type":"text","align":"left","font":"Inter","fontWeight":700,"fontSize":39,"color":"#131722"},"encoding":{"text":{"field":"t"}}},
{"data":{"values":[{"d":"2026-05-30T10:00:00Z","r":-44.3,"t":"@ Freddy"}]},"mark":{"type":"text","fontSize":22,"color":"#cfcfcf"},"encoding":{"text":{"field":"t"}}}
]}
]}
